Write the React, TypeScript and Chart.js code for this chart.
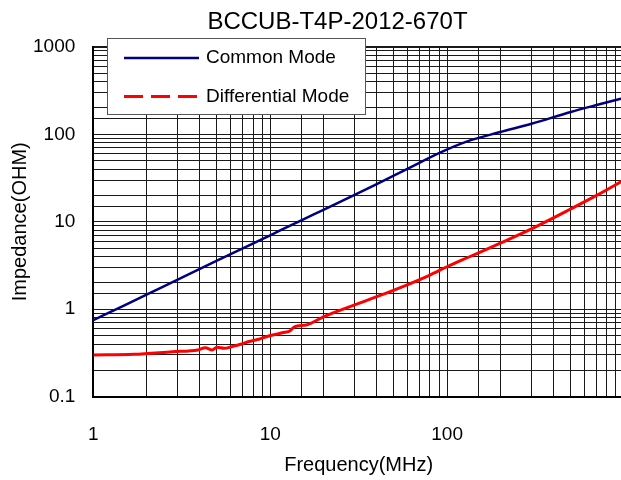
import React, { useEffect, useRef } from 'react';
import { Chart, registerables } from 'chart.js';

Chart.register(...registerables);

const chartTitle = 'BCCUB-T4P-2012-670T';
const xAxisTitle = 'Frequency(MHz)';
const yAxisTitle = 'Impedance(OHM)';
const seriesNames = ['Common Mode', 'Differential Mode'];
const xTickLabels = ['1', '10', '100'];
const yTickLabels = ['0.1', '1', '10', '100', '1000'];

// Common Mode impedance (ohm) vs frequency (MHz)
const cmFreq = [1, 1.5, 2, 3, 5, 7, 10, 15, 20, 30, 40, 60, 90, 130, 200, 300, 500, 700, 1000];
const cmImp = [0.75, 1.11, 1.47, 2.18, 3.6, 4.95, 7.0, 10.4, 13.7, 20.3, 27, 40.5, 61, 83, 106, 132, 180, 216, 260];

// Differential Mode impedance (ohm) vs frequency (MHz)
const dmFreq = [1, 1.7, 2.8, 3.9, 4.3, 4.7, 5.0, 5.5, 6.05, 6.9, 7.5, 8.6, 9.8, 12.1, 12.9, 13.7, 16, 20, 30, 40, 59, 80, 100, 134, 200, 300, 500, 700, 1000];
const dmImp = [0.3, 0.305, 0.327, 0.342, 0.363, 0.342, 0.367, 0.357, 0.373, 0.4, 0.425, 0.453, 0.494, 0.545, 0.563, 0.63, 0.66, 0.82, 1.12, 1.39, 1.89, 2.46, 3.06, 3.98, 5.7, 8.3, 14, 20, 30];

const FONT = "'Liberation Sans', Arial, Helvetica, sans-serif";
const CM_COLOR = '#000080';
const DM_COLOR = '#ff0000';

const decadeLabel = (value: number, labels: string[], offset: number) => {
  const e = Math.log10(value);
  const r = Math.round(e);
  if (Math.abs(e - r) < 1e-6) return labels[r + offset] ?? '';
  return '';
};

const legendBox = {
  id: 'legendBox',
  afterDraw(chart: any) {
    const { ctx, chartArea } = chart;
    const x0 = Math.round(chartArea.left + 13.5);
    const y0 = Math.round(chartArea.top - 8.5);
    const w = 258;
    const h = 76;
    ctx.save();
    ctx.fillStyle = '#ffffff';
    ctx.fillRect(x0, y0, w, h);
    ctx.strokeStyle = '#555555';
    ctx.lineWidth = 1;
    ctx.strokeRect(x0 + 0.5, y0 + 0.5, w, h);
    const rows = chart.data.datasets.map((ds: any, i: number) => ({
      label: ds.label,
      color: ds.borderColor,
      width: ds.borderWidth,
      dash: i === 0 ? [] : [19, 8],
      y: y0 + (i === 0 ? 20 : 58.5),
    }));
    for (const r of rows) {
      ctx.beginPath();
      ctx.setLineDash(r.dash);
      ctx.strokeStyle = r.color;
      ctx.lineWidth = r.width;
      ctx.moveTo(x0 + 17, r.y);
      ctx.lineTo(x0 + 92, r.y);
      ctx.stroke();
      ctx.setLineDash([]);
      ctx.fillStyle = '#000';
      ctx.font = `19px ${FONT}`;
      ctx.textBaseline = 'middle';
      ctx.textAlign = 'left';
      ctx.fillText(r.label, x0 + 99, r.y);
    }
    ctx.restore();
  },
};

export default function App() {
  const canvasRef = useRef<HTMLCanvasElement | null>(null);

  useEffect(() => {
    if (!canvasRef.current) return;
    Chart.defaults.font.family = FONT;
    Chart.defaults.color = '#000';
    const chart = new Chart(canvasRef.current, {
      type: 'line',
      data: {
        datasets: [
          {
            label: seriesNames[0],
            data: cmFreq.map((f, i) => ({ x: f, y: cmImp[i] })),
            borderColor: CM_COLOR,
            backgroundColor: CM_COLOR,
            borderWidth: 2.5,
            pointRadius: 0,
            cubicInterpolationMode: 'monotone',
            yAxisID: 'y',
          },
          {
            label: seriesNames[1],
            data: dmFreq.map((f, i) => ({ x: f, y: dmImp[i] })),
            borderColor: DM_COLOR,
            backgroundColor: DM_COLOR,
            borderWidth: 3,
            pointRadius: 0,
            cubicInterpolationMode: 'monotone',
            yAxisID: 'y',
          },
        ],
      },
      options: {
        responsive: false,
        animation: false,
        devicePixelRatio: 1,
        layout: { padding: 0 },
        plugins: {
          legend: { display: false },
          tooltip: { enabled: false },
          title: {
            display: true,
            text: chartTitle,
            color: '#000',
            font: { size: 24, weight: 'normal', family: FONT },
            padding: { top: 8, bottom: 10 },
          },
        },
        scales: {
          x: {
            type: 'logarithmic',
            min: 1,
            max: 1000,
            border: { display: true, color: '#000', width: 2 },
            grid: { color: '#1a1a1a', lineWidth: 1, drawTicks: false },
            ticks: {
              autoSkip: false,
              maxRotation: 0,
              minRotation: 0,
              padding: 27,
              color: '#000',
              font: { size: 19, family: FONT },
              callback: (v: any) => decadeLabel(Number(v), xTickLabels, 0),
            },
            title: {
              display: true,
              text: xAxisTitle,
              color: '#000',
              font: { size: 20, family: FONT },
              padding: { top: 0, bottom: 3 },
            },
            afterFit: (s: any) => {
              s.height = 83.3;
            },
          },
          y: {
            type: 'logarithmic',
            position: 'left',
            min: 0.1,
            max: 1000,
            border: { display: true, color: '#000', width: 2 },
            grid: {
              color: '#1a1a1a',
              lineWidth: (c: any) => (c.tick && Math.abs(c.tick.value - 1000) < 1e-6 ? 2 : 1),
              drawTicks: false,
            },
            ticks: {
              autoSkip: false,
              padding: 18,
              color: '#000',
              font: { size: 19, family: FONT },
              callback: (v: any) => decadeLabel(Number(v), yTickLabels, 1),
            },
            title: {
              display: true,
              text: yAxisTitle,
              color: '#000',
              font: { size: 20, family: FONT },
              padding: { top: 8, bottom: 0 },
            },
            afterFit: (s: any) => {
              s.width = 93.3;
            },
          },
          yRight: {
            type: 'linear',
            position: 'right',
            min: 0,
            max: 1,
            display: true,
            border: { display: false },
            grid: { display: false, drawTicks: false },
            ticks: { display: false },
            afterFit: (s: any) => {
              s.width = 51;
            },
          },
        },
      },
      plugins: [legendBox],
    } as any);
    return () => chart.destroy();
  }, []);

  return (
    <div
      style={{
        position: 'fixed',
        left: 0,
        top: 0,
        width: 621,
        height: 480,
        overflow: 'hidden',
        background: '#fff',
      }}
    >
      <canvas ref={canvasRef} width={675} height={480} style={{ display: 'block', width: 675, height: 480 }} />
    </div>
  );
}
